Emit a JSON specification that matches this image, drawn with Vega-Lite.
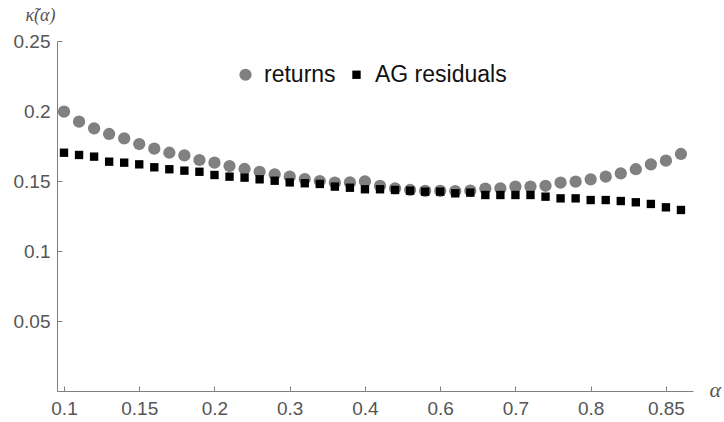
{
  "$schema": "https://vega.github.io/schema/vega-lite/v6.json",
  "width": 636,
  "height": 350,
  "autosize": {"type": "none"},
  "padding": {"left": 57, "top": 41, "right": 31, "bottom": 31},
  "background": "white",
  "config": {
    "view": {"stroke": null},
    "font": "Liberation Sans"
  },
  "data": {
    "values": [
      {"i": 0, "series": "returns", "v": 0.1995},
      {"i": 1, "series": "returns", "v": 0.1924},
      {"i": 2, "series": "returns", "v": 0.1876},
      {"i": 3, "series": "returns", "v": 0.1836},
      {"i": 4, "series": "returns", "v": 0.1805},
      {"i": 5, "series": "returns", "v": 0.1764},
      {"i": 6, "series": "returns", "v": 0.1731},
      {"i": 7, "series": "returns", "v": 0.1702},
      {"i": 8, "series": "returns", "v": 0.1683},
      {"i": 9, "series": "returns", "v": 0.165},
      {"i": 10, "series": "returns", "v": 0.1631},
      {"i": 11, "series": "returns", "v": 0.1607},
      {"i": 12, "series": "returns", "v": 0.1586},
      {"i": 13, "series": "returns", "v": 0.1566},
      {"i": 14, "series": "returns", "v": 0.1548},
      {"i": 15, "series": "returns", "v": 0.1531},
      {"i": 16, "series": "returns", "v": 0.1514},
      {"i": 17, "series": "returns", "v": 0.15},
      {"i": 18, "series": "returns", "v": 0.1488},
      {"i": 19, "series": "returns", "v": 0.149},
      {"i": 20, "series": "returns", "v": 0.1498},
      {"i": 21, "series": "returns", "v": 0.1465},
      {"i": 22, "series": "returns", "v": 0.1448},
      {"i": 23, "series": "returns", "v": 0.1436},
      {"i": 24, "series": "returns", "v": 0.1429},
      {"i": 25, "series": "returns", "v": 0.1429},
      {"i": 26, "series": "returns", "v": 0.1428},
      {"i": 27, "series": "returns", "v": 0.1431},
      {"i": 28, "series": "returns", "v": 0.1446},
      {"i": 29, "series": "returns", "v": 0.1448},
      {"i": 30, "series": "returns", "v": 0.146},
      {"i": 31, "series": "returns", "v": 0.146},
      {"i": 32, "series": "returns", "v": 0.1466},
      {"i": 33, "series": "returns", "v": 0.1488},
      {"i": 34, "series": "returns", "v": 0.1495},
      {"i": 35, "series": "returns", "v": 0.1512},
      {"i": 36, "series": "returns", "v": 0.1531},
      {"i": 37, "series": "returns", "v": 0.1555},
      {"i": 38, "series": "returns", "v": 0.1584},
      {"i": 39, "series": "returns", "v": 0.1619},
      {"i": 40, "series": "returns", "v": 0.1645},
      {"i": 41, "series": "returns", "v": 0.1693},
      {"i": 0, "series": "AG residuals", "v": 0.1702},
      {"i": 1, "series": "AG residuals", "v": 0.1686},
      {"i": 2, "series": "AG residuals", "v": 0.1674},
      {"i": 3, "series": "AG residuals", "v": 0.1638},
      {"i": 4, "series": "AG residuals", "v": 0.1631},
      {"i": 5, "series": "AG residuals", "v": 0.1619},
      {"i": 6, "series": "AG residuals", "v": 0.1598},
      {"i": 7, "series": "AG residuals", "v": 0.1584},
      {"i": 8, "series": "AG residuals", "v": 0.1574},
      {"i": 9, "series": "AG residuals", "v": 0.1566},
      {"i": 10, "series": "AG residuals", "v": 0.1543},
      {"i": 11, "series": "AG residuals", "v": 0.1531},
      {"i": 12, "series": "AG residuals", "v": 0.1524},
      {"i": 13, "series": "AG residuals", "v": 0.1512},
      {"i": 14, "series": "AG residuals", "v": 0.1502},
      {"i": 15, "series": "AG residuals", "v": 0.149},
      {"i": 16, "series": "AG residuals", "v": 0.1484},
      {"i": 17, "series": "AG residuals", "v": 0.1479},
      {"i": 18, "series": "AG residuals", "v": 0.146},
      {"i": 19, "series": "AG residuals", "v": 0.1452},
      {"i": 20, "series": "AG residuals", "v": 0.1441},
      {"i": 21, "series": "AG residuals", "v": 0.1441},
      {"i": 22, "series": "AG residuals", "v": 0.1436},
      {"i": 23, "series": "AG residuals", "v": 0.1431},
      {"i": 24, "series": "AG residuals", "v": 0.1424},
      {"i": 25, "series": "AG residuals", "v": 0.1424},
      {"i": 26, "series": "AG residuals", "v": 0.1412},
      {"i": 27, "series": "AG residuals", "v": 0.1417},
      {"i": 28, "series": "AG residuals", "v": 0.14},
      {"i": 29, "series": "AG residuals", "v": 0.14},
      {"i": 30, "series": "AG residuals", "v": 0.14},
      {"i": 31, "series": "AG residuals", "v": 0.14},
      {"i": 32, "series": "AG residuals", "v": 0.1388},
      {"i": 33, "series": "AG residuals", "v": 0.1376},
      {"i": 34, "series": "AG residuals", "v": 0.1376},
      {"i": 35, "series": "AG residuals", "v": 0.1364},
      {"i": 36, "series": "AG residuals", "v": 0.1364},
      {"i": 37, "series": "AG residuals", "v": 0.1357},
      {"i": 38, "series": "AG residuals", "v": 0.1348},
      {"i": 39, "series": "AG residuals", "v": 0.1336},
      {"i": 40, "series": "AG residuals", "v": 0.1312},
      {"i": 41, "series": "AG residuals", "v": 0.1293}
    ]
  },
  "mark": {"type": "point", "filled": true, "opacity": 1},
  "encoding": {
    "x": {
      "field": "i",
      "type": "quantitative",
      "scale": {"domain": [-0.465, 41.8], "nice": false, "zero": false},
      "axis": {
        "title": "α",
        "titleFont": "Liberation Serif",
        "titleFontStyle": "italic",
        "titleFontWeight": "normal",
        "titleFontSize": 22,
        "titleColor": "#555555",
        "titleAlign": "left",
        "titleBaseline": "middle",
        "titleX": 652,
        "titleY": -2,
        "values": [0, 5, 10, 15, 20, 25, 30, 35, 40],
        "labelExpr": "['0.1','0.15','0.2','0.3','0.4','0.6','0.7','0.8','0.85'][round(datum.value/5)]",
        "labelFontSize": 19,
        "labelColor": "#555555",
        "labelPadding": 13,
        "labelFlush": false,
        "labelOverlap": false,
        "tickSize": -5,
        "tickColor": "#808080",
        "domainColor": "#808080",
        "grid": false
      }
    },
    "y": {
      "field": "v",
      "type": "quantitative",
      "scale": {"domain": [0, 0.25], "nice": false, "zero": true},
      "axis": {
        "title": "κ̃(α)",
        "titleFont": "Liberation Serif",
        "titleFontStyle": "italic",
        "titleFontWeight": "normal",
        "titleFontSize": 18,
        "titleColor": "#555555",
        "titleAngle": 0,
        "titleAlign": "center",
        "titleBaseline": "middle",
        "titleX": -17,
        "titleY": -26,
        "values": [0.05, 0.1, 0.15, 0.2, 0.25],
        "format": "~g",
        "labelFontSize": 19,
        "labelColor": "#555555",
        "labelPadding": 12,
        "labelFlush": false,
        "labelOverlap": false,
        "tickSize": -5,
        "tickColor": "#808080",
        "domainColor": "#808080",
        "grid": false
      }
    },
    "color": {
      "field": "series",
      "type": "nominal",
      "scale": {"domain": ["returns", "AG residuals"], "range": ["#808080", "#000000"]},
      "legend": {
        "title": null,
        "orient": "none",
        "direction": "horizontal",
        "legendX": 177,
        "legendY": 22,
        "padding": 0,
        "symbolSize": 133,
        "symbolStrokeWidth": 0,
        "symbolOpacity": 1,
        "labelFontSize": 23,
        "labelColor": "#111111",
        "labelOffset": 7,
        "columnPadding": 9
      }
    },
    "shape": {
      "field": "series",
      "type": "nominal",
      "scale": {"domain": ["returns", "AG residuals"], "range": ["circle", "square"]}
    },
    "size": {
      "field": "series",
      "type": "nominal",
      "scale": {"domain": ["returns", "AG residuals"], "range": [150, 70]},
      "legend": null
    }
  }
}
